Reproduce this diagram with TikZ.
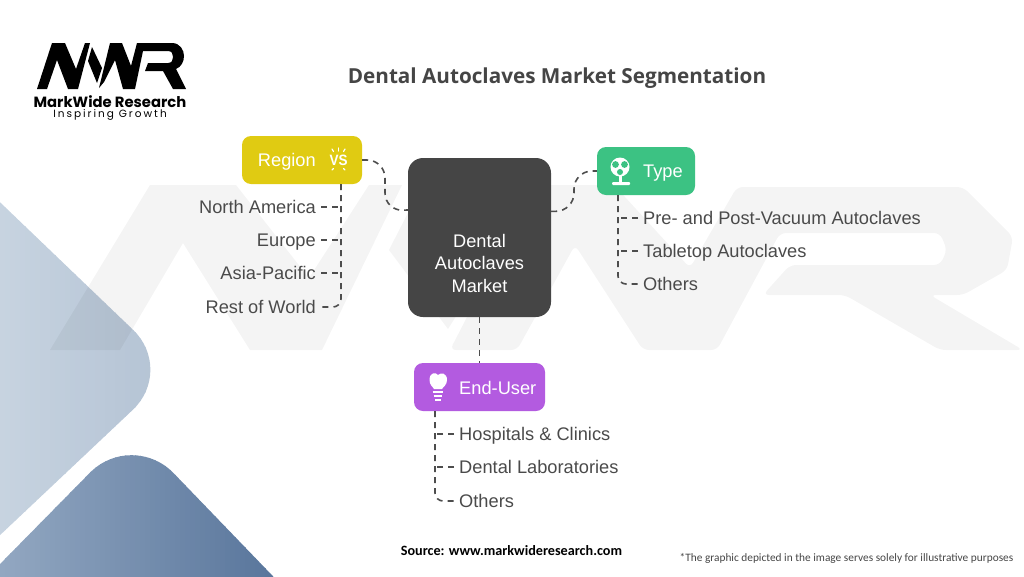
\documentclass[tikz,border=0pt]{standalone}
\usepackage{fontspec}
\setmainfont{Liberation Sans}
\newfontfamily\titlefont{Open Sans}
\newfontfamily\logofont{Poppins}
\newfontfamily\logospaced[LetterSpace=19]{Poppins}
\newfontfamily\notefont{Carlito}
\usepackage{amsmath}
\usepackage{tikz}
\usetikzlibrary{arrows.meta}
\definecolor{corefill}{HTML}{454545}
\definecolor{labelgray}{HTML}{4A4A4A}
\definecolor{dashgray}{HTML}{4D4D4D}
\definecolor{regionfill}{HTML}{E0CB12}
\definecolor{typefill}{HTML}{3CC283}
\definecolor{userfill}{HTML}{B35BE0}
\definecolor{palestart}{HTML}{C7D3E0}
\definecolor{paleend}{HTML}{B5C4D5}
\definecolor{deepstart}{HTML}{92A7C1}
\definecolor{deepend}{HTML}{58759B}
\tikzset{
  corebox/.style={fill=corefill, rounded corners=15pt, minimum width=143pt, minimum height=159pt, inner sep=0pt},
  headbox/.style={rounded corners=9pt, minimum height=48pt, inner sep=0pt},
  coretext/.style={text=white, inner sep=0pt, align=center, font=\fontsize{18.2}{22.5}\selectfont},
  itemleft/.style={anchor=west, text=labelgray, inner sep=0pt, text height=15pt, text depth=2pt, font=\fontsize{18.25}{22}\selectfont},
  itemright/.style={anchor=east, text=labelgray, inner sep=0pt, text height=15pt, text depth=2pt, font=\fontsize{18.25}{22}\selectfont},
  dashline/.style={draw=dashgray, line width=1.6pt, dash pattern=on 6pt off 5pt},
  iconline/.style={line width=1.2pt, line cap=round},
}
\begin{document}
\begin{tikzpicture}[x=1pt,y=-1pt]
\useasboundingbox (0,0) rectangle (1024,576);
% corner shapes
\begin{scope}
\clip (0,0) rectangle (1024,576);
\begin{scope}
\clip[rounded corners=58pt] (-90,116) -- (175,370) -- (-90,620) -- cycle;
\foreach \k in {0,...,30} {
  \pgfmathsetmacro{\mixval}{\k*100/30}
  \fill[paleend!\mixval!palestart] (\k*5,190) rectangle (\k*5+6,550);
}
\end{scope}
\begin{scope}
\clip[rounded corners=60pt] (132,430) -- (320,625) -- (-60,625) -- cycle;
\foreach \k in {0,...,55} {
  \pgfmathsetmacro{\mixval}{\k*100/55}
  \fill[deepend!\mixval!deepstart] (\k*5,440) rectangle (\k*5+6,580);
}
\end{scope}
% watermark
\begin{scope}[fill=black, fill opacity=0.045]
\fill (50,350) -- (150,185) -- (236,185) -- (309,278) -- (369,185) -- (402,185) -- (322,350) -- (250,350) -- (183,243) -- (120,350) -- cycle;
\fill (415,199) -- (482,275) -- (448,329) -- (389,250) -- cycle;
\fill[rounded corners=6pt] (450,350) -- (535,185) -- (614,185) -- (690,268) -- (737,187) -- (963,187) -- (1013,237) -- (1007,270) -- (963,295) -- (930,295) -- (1023,350) -- (940,350) -- (845,295) -- (763,295) -- (790,265) -- (940,265) -- (947,250) -- (940,233) -- (780,233) -- (717,350) -- (643,350) -- (575,245) -- (517,350) -- cycle;
\end{scope}
\end{scope}
% logo
\fill[black] (37,89) -- (52,43) -- (65,43) -- (76,69) -- (85,43) -- (90,43) -- (78,89) -- (68,89) -- (57,60) -- (47,89) -- cycle;
\fill[black] (92,47) -- (102,68) -- (97,83) -- (88,61) -- cycle;
\fill[black] (99,88) -- (110,43) -- (122,43) -- (131,66) -- (137,43) -- (172,43) .. controls (180,43) and (184,50) .. (184,56) .. controls (184,62) and (181,67) .. (176,69) -- (186,89) -- (173,89) -- (163,71) -- (145,71) -- (148,63) -- (168,63) .. controls (172,63) and (173,60) .. (173,57) .. controls (173,54) and (172,51) .. (168,51) -- (143,51) -- (135,89) -- (123,89) -- (115,60) -- (104,82) -- cycle;
\node[inner sep=0pt, font=\logofont\bfseries\fontsize{14.8}{16}\selectfont] (logoname) at (110,101.5) {MarkWide Research};
\node[inner sep=0pt, font=\logospaced\fontsize{10.5}{12}\selectfont] (logotag) at (110,115) {Inspiring Growth};
% title and footer
\node[inner sep=0pt, text=corefill, font=\titlefont\bfseries\fontsize{20.7}{24}\selectfont] (title) at (557,78) {Dental Autoclaves Market Segmentation};
\node[inner sep=0pt, font=\notefont\bfseries\fontsize{14.2}{16}\selectfont] (source) at (511.5,551) {Source: www.markwideresearch.com};
\node[inner sep=0pt, text=corefill, font=\notefont\fontsize{11.35}{14}\selectfont] (note) at (846.5,558) {*The graphic depicted in the image serves solely for illustrative purposes};
% boxes
\node[corebox] (core) at (479.5,237.5) {};
\node[coretext] (corename) at (479.5,263) {Dental\\Autoclaves\\Market};
\node[headbox, fill=regionfill, minimum width=120pt] (regionbox) at (302,160) {};
\node[headbox, fill=typefill, minimum width=98pt] (typebox) at (646,171) {};
\node[headbox, fill=userfill, minimum width=131pt] (userbox) at (479.5,387) {};
\node[itemright, text=white] (regionname) at (316,160) {Region};
\node[itemleft, text=white] (typename) at (643,171) {Type};
\node[itemleft, text=white] (username) at (459,388) {End-User};
% items
\node[itemright] (northam) at (316,207) {North America};
\node[itemright] (europe) at (316,240) {Europe};
\node[itemright] (asiapac) at (316,273) {Asia-Pacific};
\node[itemright] (restworld) at (316,307) {Rest of World};
\node[itemleft] (prepost) at (643,218) {Pre- and Post-Vacuum Autoclaves};
\node[itemleft] (tabletop) at (643,251) {Tabletop Autoclaves};
\node[itemleft] (typeothers) at (643,284) {Others};
\node[itemleft] (hospitals) at (459,434) {Hospitals \& Clinics};
\node[itemleft] (dentallabs) at (459,467) {Dental Laboratories};
\node[itemleft] (userothers) at (459,501) {Others};
% spines
\coordinate (regionspine) at (341,184);
\coordinate (typespine) at (618,195);
\coordinate (userspine) at (435,411);
% draws connectors
\draw[dashline, rounded corners=18pt] (regionbox.east) -- (385,160) -- (385,211) -- (core.159.7);
\draw[dashline, rounded corners=18pt] (core.20.3) -- (574,211) -- (574,171) -- (typebox.west);
\draw[dashline] (core.south) -- (userbox.north);
\draw[dashline, rounded corners=8pt] (regionspine) -- (341,307) -- ([xshift=5pt]restworld.east);
\draw[dashline] ([xshift=5pt]northam.east) -- (northam.east -| regionspine);
\draw[dashline] ([xshift=5pt]europe.east) -- (europe.east -| regionspine);
\draw[dashline] ([xshift=5pt]asiapac.east) -- (asiapac.east -| regionspine);
\draw[dashline, rounded corners=8pt] (typespine) -- (618,284) -- ([xshift=-5pt]typeothers.west);
\draw[dashline] ([xshift=-5pt]prepost.west) -- (prepost.west -| typespine);
\draw[dashline] ([xshift=-5pt]tabletop.west) -- (tabletop.west -| typespine);
\draw[dashline, rounded corners=8pt] (userspine) -- (435,501) -- ([xshift=-5pt]userothers.west);
\draw[dashline] ([xshift=-5pt]hospitals.west) -- (hospitals.west -| userspine);
\draw[dashline] ([xshift=-5pt]dentallabs.west) -- (dentallabs.west -| userspine);
% icons
\node[inner sep=0pt, text=white, xscale=0.9, font=\bfseries\fontsize{15}{16}\selectfont] (vsicon) at (338.5,160) {VS};
\draw[white, iconline] (338.5,148) -- (338.5,151);
\draw[white, iconline] (332,149) -- (333.5,151.5);
\draw[white, iconline] (345,149) -- (343.5,151.5);
\draw[white, iconline] (332,170) -- (333.5,168.5);
\draw[white, iconline] (345,170) -- (343.5,168.5);
\fill[white] (620,167) circle (9.5pt);
\fill[typefill] (615.5,164.5) circle (3.4pt);
\fill[typefill] (624.5,164.5) circle (3.4pt);
\fill[typefill] (620,172) circle (3pt);
\fill[white] (620,167) circle (1.8pt);
\fill[white] (618.5,176) rectangle (621.5,182);
\fill[white, rounded corners=1pt] (612,182) rectangle (630,185);
\fill[white] (429.5,380) .. controls (429.5,372) and (436,372) .. (438,375) .. controls (441,372) and (447,373) .. (447,380) .. controls (447,385) and (443,387) .. (442,389) -- (434,389) .. controls (433,387) and (429.5,385) .. (429.5,380) -- cycle;
\draw[white, line width=2pt] (432.5,392) -- (443,392);
\draw[white, line width=2pt] (433.5,396) -- (442,396);
\draw[white, line width=2pt] (435,400) -- (440.5,400);
\end{tikzpicture}
\end{document}
